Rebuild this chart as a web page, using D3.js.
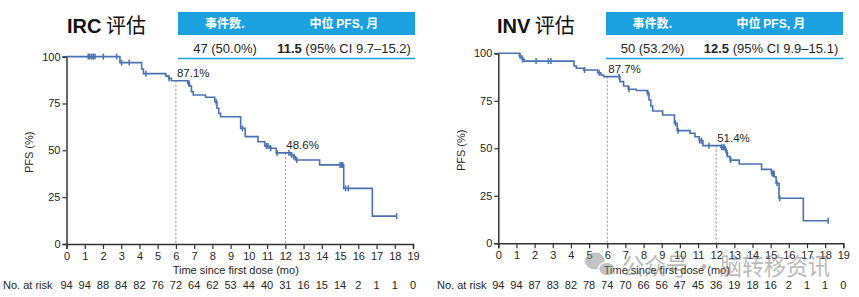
<!DOCTYPE html>
<html>
<head>
<meta charset="utf-8">
<script src="https://cdn.jsdelivr.net/npm/d3@7"></script>
<style>
  body { margin: 0; background: #fff; }
  svg { display: block; font-family: "Liberation Sans", Arial, sans-serif; }
</style>
</head>
<body>
<svg id="chart" width="859" height="297"></svg>
<script>
// months on the x axis
var months = d3.range(0, 20);
var yTicks = [0, 25, 50, 75, 100];

// IRC assessment: [time (mo), PFS % after the drop]
var ircSteps = [[0,100],[2.93,96.8],[4.12,93.4],[4.22,90.9],[5.45,89.6],[5.6,88.4],[5.75,87.1],
  [6.64,85.7],[6.75,84.3],[6.85,81.3],[6.95,79.5],[7.62,78.3],[8.13,75.9],[8.25,72.4],[8.35,69.7],
  [8.45,67.9],[9.55,61.7],[9.8,57.3],[10.5,54.6],[10.87,52.3],[11.15,51.1],[11.5,48.6],[12.3,47.5],
  [12.45,46.6],[12.55,44.8],[13.88,42.2],[15.2,29.7],[16.77,14.9]];
var ircEnd = 18.1;
var ircCensor = [1.19,1.28,1.38,1.47,1.56,2.02,2.75,3.02,3.44,4.35,5.62,6.7,6.72,8.2,9.65,
  10.96,11.05,11.2,11.55,12.2,12.35,12.47,12.63,15.0,15.08,15.15,15.3,15.45,18.1];
var ircRisk = [94,94,88,84,82,76,72,64,62,53,44,40,31,16,15,14,2,1,1,0];
var ircMarks = [[6, 87.1, "87.1%"], [12, 48.6, "48.6%"]];

// INV assessment
var invSteps = [[0,100],[1.16,98.6],[1.3,96.8],[1.43,95.9],[4.17,93.3],[4.3,92.1],[4.7,91.2],
  [5.47,89.8],[5.65,88.6],[5.8,87.7],[6.7,85.1],[6.9,82.8],[7.16,81.1],[7.6,80.4],[8.2,78.9],
  [8.3,75.4],[8.4,72.3],[8.5,69.6],[9.05,67.5],[9.7,63.2],[9.85,59.3],[10.56,57.9],[10.83,56.1],
  [11.06,54],[11.27,51.4],[12.26,50.5],[12.47,49.5],[12.55,47.7],[12.62,45.6],[12.76,43.8],
  [13.27,41.7],[14.5,38.9],[15.04,36.8],[15.19,35],[15.3,31.6],[15.46,23.7],[16.8,11.9]];
var invEnd = 18.17;
var invCensor = [1.2,1.35,2.08,2.76,2.9,4.75,5.55,6.66,7.2,8.25,9.75,9.9,11.1,11.2,11.6,
  12.3,12.38,12.44,12.52,12.59,12.8,15.08,15.13,15.18,15.35,15.5,18.17];
var invRisk = [94,94,87,83,82,78,74,70,66,56,47,45,36,19,18,16,2,1,1,0];
var invMarks = [[6, 87.7, "87.7%"], [12, 51.4, "51.4%"]];

var svg = d3.select("#chart");
var curveColor = "#4a72b2";
var headColor = "#1ba1e0";
var txt = "#262626";

function survivalAt(steps, t) {
  var s = steps[0][1];
  steps.forEach(function(d) { if (d[0] <= t) s = d[1]; });
  return s;
}

function panel(o) {
  var g = svg.append("g");
  var x = d3.scaleLinear().domain([0, 19]).range([o.x0, o.x1]);
  var y = d3.scaleLinear().domain([0, 100]).range([o.y0, o.y1]);

  // title
  var title = g.append("text").attr("x", o.titleX).attr("y", 33)
    .attr("font-size", 20).attr("font-weight", "bold").attr("fill", "#111");
  title.append("tspan").text(o.title);
  title.append("tspan").attr("font-family", "Noto Sans CJK SC").attr("font-weight", "normal").text(" 评估");

  // header table
  g.append("rect").attr("x", o.boxX0).attr("y", 12).attr("width", o.boxX1 - o.boxX0).attr("height", 23)
    .attr("fill", headColor);
  g.append("text").attr("x", o.col1).attr("y", 28).attr("text-anchor", "middle")
    .attr("font-family", "Noto Sans CJK SC").attr("font-weight", "bold").attr("font-size", 12)
    .attr("fill", "#fff").text("事件数.");
  var h2 = g.append("text").attr("x", o.col2).attr("y", 28).attr("text-anchor", "middle")
    .attr("font-weight", "bold").attr("font-size", 12).attr("fill", "#fff");
  h2.append("tspan").attr("font-family", "Noto Sans CJK SC").text("中位 ");
  h2.append("tspan").text("PFS, ");
  h2.append("tspan").attr("font-family", "Noto Sans CJK SC").text("月");
  g.append("text").attr("x", o.col1).attr("y", 53).attr("text-anchor", "middle")
    .attr("font-size", 13).attr("fill", txt).text(o.events);
  var r2 = g.append("text").attr("x", o.col2).attr("y", 53).attr("text-anchor", "middle")
    .attr("font-size", 13).attr("fill", txt);
  r2.append("tspan").attr("font-weight", "bold").text(o.median);
  r2.append("tspan").text(" " + o.ci);
  g.append("line").attr("x1", o.boxX0).attr("x2", o.boxX1).attr("y1", 58.5).attr("y2", 58.5)
    .attr("stroke", headColor).attr("stroke-width", 1.5);

  // axes
  var xAxis = g.append("g").attr("transform", "translate(0," + o.y0 + ")")
    .call(d3.axisBottom(x).tickValues(months).tickSize(5).tickPadding(3).tickFormat(d3.format("d")));
  var yAxis = g.append("g").attr("transform", "translate(" + o.x0 + ",0)")
    .call(d3.axisLeft(y).tickValues(yTicks).tickSize(4).tickPadding(2));
  [xAxis, yAxis].forEach(function(a) {
    a.select(".domain").attr("stroke", "#333").attr("stroke-width", 1.5);
    a.selectAll(".tick line").attr("stroke", "#333").attr("stroke-width", 1.2);
    a.selectAll(".tick text").attr("font-size", 11).attr("fill", txt)
      .attr("font-family", "Liberation Sans, Arial, sans-serif");
  });

  g.append("text").attr("transform", "translate(" + o.ylabX + "," + (y(50) + 2) + ") rotate(-90)")
    .attr("text-anchor", "middle").attr("font-size", 11).attr("fill", txt).text("PFS (%)");
  g.append("text").attr("x", (x(0) + x(19)) / 2 - 4).attr("y", 274).attr("text-anchor", "middle")
    .attr("font-size", 11).attr("fill", txt).text("Time since first dose (mo)");

  // number at risk
  g.append("text").attr("x", o.riskX).attr("y", 289).attr("font-size", 11).attr("fill", txt)
    .text("No. at risk");
  g.selectAll(".risk").data(o.risk).enter().append("text")
    .attr("x", function(d, i) { return x(i); }).attr("y", 289).attr("text-anchor", "middle")
    .attr("font-size", 11).attr("fill", txt).text(function(d) { return d; });

  // landmark lines
  o.marks.forEach(function(m) {
    g.append("line").attr("x1", x(m[0])).attr("x2", x(m[0])).attr("y1", y(m[1])).attr("y2", o.y0)
      .attr("stroke", "#888").attr("stroke-width", 1).attr("stroke-dasharray", "2,2");
    g.append("text").attr("x", x(m[0]) + 1).attr("y", y(m[1]) - 4).attr("font-size", 11.5)
      .attr("fill", txt).text(m[2]);
  });

  // KM curve
  var pts = o.steps.concat([[o.end, o.steps[o.steps.length - 1][1]]]);
  var line = d3.line().x(function(d) { return x(d[0]); }).y(function(d) { return y(d[1]); })
    .curve(d3.curveStepAfter);
  g.append("path").datum(pts).attr("d", line).attr("fill", "none")
    .attr("stroke", curveColor).attr("stroke-width", 1.6);
  g.selectAll(".cens").data(o.censor).enter().append("line")
    .attr("x1", function(d) { return x(d); }).attr("x2", function(d) { return x(d); })
    .attr("y1", function(d) { return y(survivalAt(o.steps, d)) - 3; })
    .attr("y2", function(d) { return y(survivalAt(o.steps, d)) + 3; })
    .attr("stroke", curveColor).attr("stroke-width", 1.5);
}

panel({ title: "IRC", titleX: 67, x0: 66.5, x1: 413, y0: 244, y1: 56.6,
  boxX0: 178, boxX1: 415, col1: 225, col2: 344,
  events: "47 (50.0%)", median: "11.5", ci: "(95% CI 9.7–15.2)",
  ylabX: 33, riskX: 3, risk: ircRisk, marks: ircMarks,
  steps: ircSteps, end: ircEnd, censor: ircCensor });

panel({ title: "INV", titleX: 497, x0: 498.3, x1: 843.3, y0: 243.3, y1: 53.3,
  boxX0: 606, boxX1: 843, col1: 652.5, col2: 771,
  events: "50 (53.2%)", median: "12.5", ci: "(95% CI 9.9–15.1)",
  ylabX: 465, riskX: 437, risk: invRisk, marks: invMarks,
  steps: invSteps, end: invEnd, censor: invCensor });

// watermark
var wm = svg.append("g").attr("opacity", 0.5);
wm.append("ellipse").attr("cx", 595).attr("cy", 261).attr("rx", 10).attr("ry", 8.5).attr("fill", "#888");
wm.append("ellipse").attr("cx", 607).attr("cy", 269).attr("rx", 8.5).attr("ry", 7).attr("fill", "#888")
  .attr("stroke", "#fff").attr("stroke-width", 1.5);
wm.append("text").attr("x", 622).attr("y", 275).attr("font-family", "Noto Sans CJK SC")
  .attr("font-size", 24).attr("textLength", 208).attr("lengthAdjust", "spacingAndGlyphs")
  .attr("fill", "#777").text("公众号 · 脑转移资讯");
</script>
</body>
</html>
